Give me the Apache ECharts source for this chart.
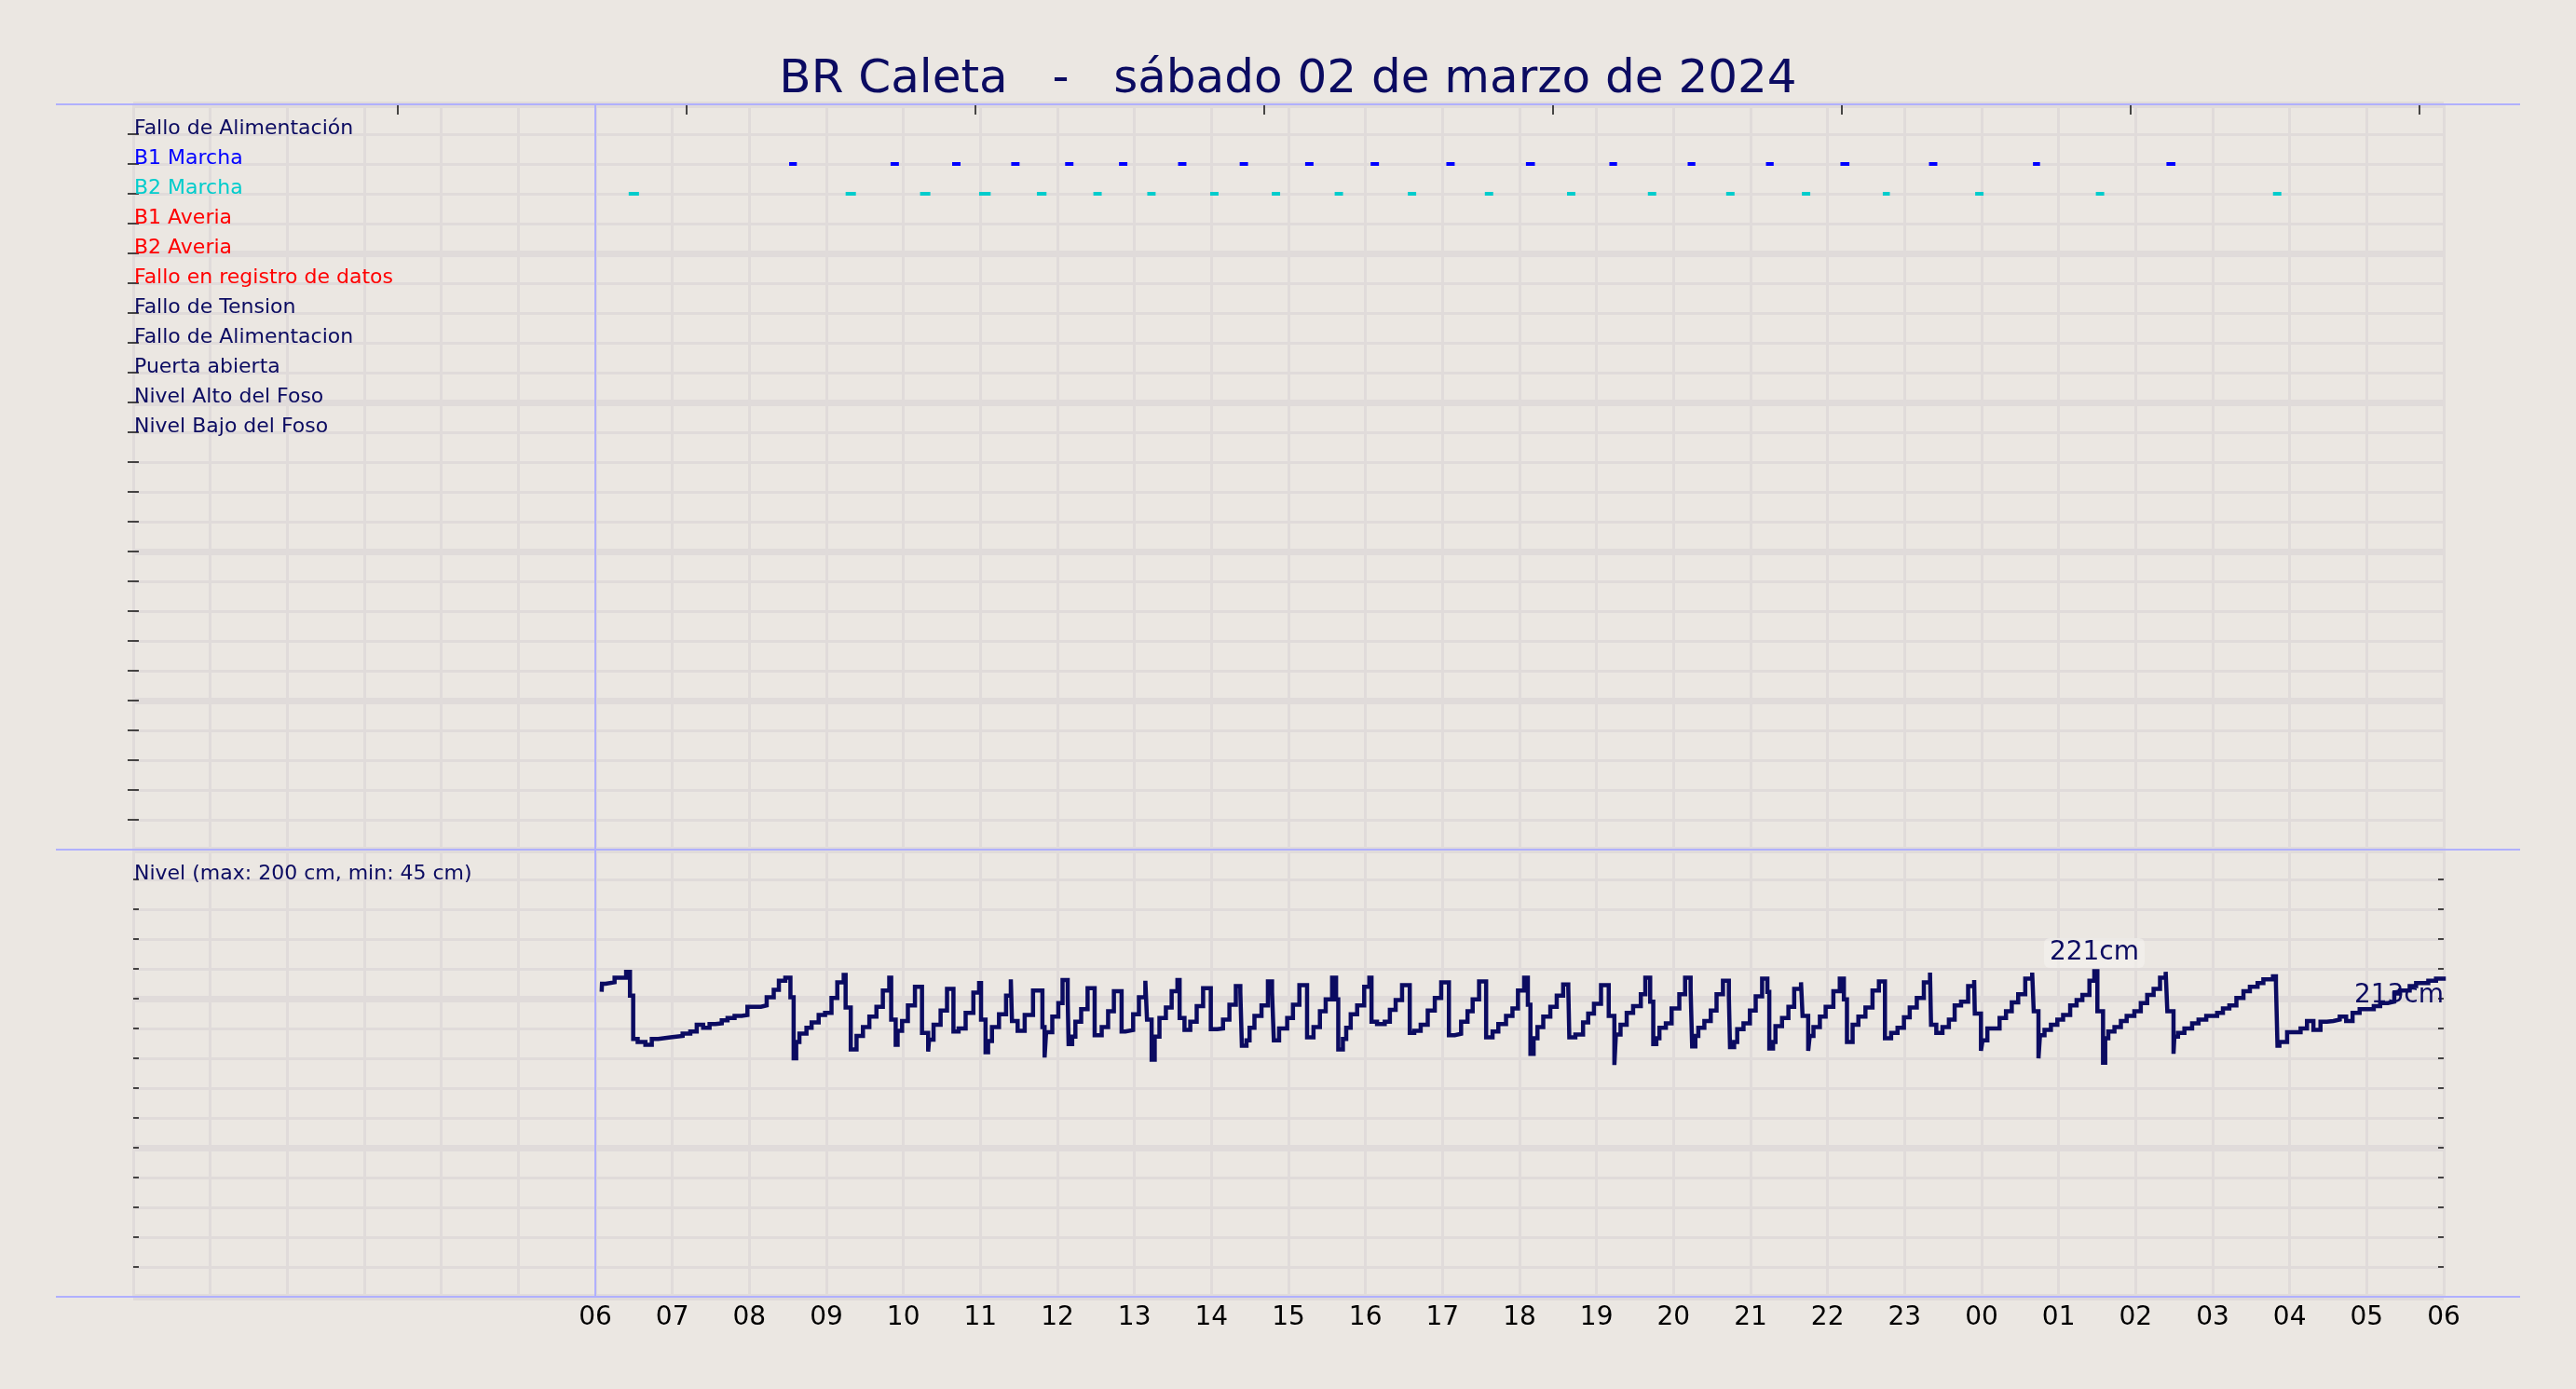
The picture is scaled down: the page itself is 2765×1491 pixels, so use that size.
<!DOCTYPE html>
<html>
<head>
<meta charset="utf-8">
<script src="https://cdn.jsdelivr.net/npm/echarts@6/dist/echarts.min.js"></script>
<style>
  html, body { margin: 0; padding: 0; background: #ebe7e2; }
  #chart { width: 2765px; height: 1491px; }
</style>
</head>
<body>
<div id="chart"></div>
<script>
// --- data ---
const titleText = 'BR Caleta   -   sábado 02 de marzo de 2024'
const nivelText = 'Nivel (max: 200 cm, min: 45 cm)'
const maxLabel = '221cm'
const lastLabel = '213cm'

// status rows, top to bottom (row 1 .. 11)
const rowLabels = [
  'Fallo de Alimentación', 'B1 Marcha', 'B2 Marcha', 'B1 Averia', 'B2 Averia',
  'Fallo en registro de datos', 'Fallo de Tension', 'Fallo de Alimentacion',
  'Puerta abierta', 'Nivel Alto del Foso', 'Nivel Bajo del Foso'
]
const rowColors = [
  '#0b0b61', '#0000ff', '#00cccc', '#ff0000', '#ff0000',
  '#ff0000', '#0b0b61', '#0b0b61', '#0b0b61', '#0b0b61', '#0b0b61'
]

// hour labels for x = 6 .. 30 (hours since 00:00)
const hourLabels = ['06', '07', '08', '09', '10', '11', '12', '13', '14', '15', '16', '17',
  '18', '19', '20', '21', '22', '23', '00', '01', '02', '03', '04', '05', '06']
// unlabeled tick marks along the top edge (hours)
const topTicks = [3.43, 7.18, 10.93, 14.68, 18.43, 22.18, 25.93, 29.68]

// pump runs: start (minutes since 00:00) and duration (minutes)
const b1Start = [511, 590, 638, 684, 726, 768, 814, 862, 913, 964, 1023, 1085, 1150, 1211, 1272, 1330, 1399, 1480, 1584]
const b1Dur = [6, 6.5, 6.5, 6.5, 6.5, 6.5, 6.5, 6.5, 6.5, 6.5, 6.5, 7, 6, 6, 6, 7, 6.5, 5.5, 7]
const b2Start = [386, 555, 613, 659, 704, 748, 790, 839, 887, 936, 993, 1053, 1117, 1180, 1241, 1300, 1363, 1435, 1529, 1667]
const b2Dur = [8, 8, 8, 9, 7.5, 6.5, 6.5, 6.5, 6.5, 6.5, 6.5, 6.5, 6.5, 6.5, 6.5, 6.5, 5.5, 6.5, 6.5, 6.5]

// pit level: time each value starts (minutes since 00:00) and level (cm)
const nivelMin = [
  365, 365.2, 368, 375, 384, 387, 389.5, 393, 399, 404, 409, 418.5, 428, 434, 439, 444, 449, 453.5, 458.5, 463,
  468.5, 474, 478.5, 489, 493.5, 499, 503, 508, 512, 514.5, 516.5, 519, 524.5, 528.5, 534, 539, 544, 548.5, 553.5, 555,
  559, 563.5, 568.5, 573.5, 579, 584, 589, 590.5, 594, 595.5, 599, 603.5, 609, 614.5, 619.3, 620, 623.5, 629, 634, 639,
  643, 648.5, 654.5, 659, 660.5, 664, 666, 669, 674.5, 680, 683.7, 684.6, 689, 694.5, 701, 708.3, 710, 711.2, 716, 720.7,
  724, 728, 728.7, 731.5, 734, 738.5, 743.5, 749, 754.5, 759.5, 764, 770, 773, 779, 783.5, 788.5, 789.8, 793.4, 795.8, 799.5,
  804.5, 809, 813.5, 815.2, 819, 823.5, 828.5, 833.5, 839.5, 844.5, 849, 854, 859, 862.5, 863.7, 867.3, 869.7, 873.5, 879, 884,
  887.2, 888.6, 892.7, 899, 903.5, 908.5, 914.5, 919.5, 924.5, 929, 934, 937.1, 938.8, 942.4, 945, 948.5, 953.5, 959, 963, 964.7,
  969, 975, 979, 983.5, 988.5, 994.5, 998, 1003, 1008.5, 1014, 1019, 1025, 1029.5, 1034.5, 1039.5, 1043.5, 1048.5, 1054, 1059, 1063.5,
  1069.5, 1074.5, 1078.8, 1083.6, 1086.5, 1088.5, 1091, 1094, 1098.5, 1104, 1109, 1114, 1118, 1118.8, 1123.5, 1129.5, 1133.5, 1138, 1143.5, 1149.5,
  1153.9, 1155.1, 1158.7, 1163.5, 1168.5, 1174.5, 1178, 1181.8, 1184.2, 1186.6, 1189, 1194, 1198.5, 1204.5, 1209, 1213.3, 1214.5, 1217, 1219.3, 1224,
  1229, 1233.5, 1238.5, 1243.1, 1244, 1247.2, 1249.6, 1254.5, 1259.5, 1264, 1269, 1273.1, 1274.6, 1277.5, 1279.4, 1284.5, 1289.5, 1294, 1299.3, 1300.5,
  1304.9, 1306.1, 1309, 1314, 1318.5, 1324.5, 1329.5, 1332.7, 1335.1, 1339.5, 1344, 1349.5, 1355, 1360, 1364.7, 1369.5, 1374.5, 1379.5, 1384, 1389.5,
  1395, 1399.8, 1400.6, 1404.7, 1409.5, 1414.5, 1419, 1424, 1429.5, 1434.2, 1434.7, 1439.5, 1440.7, 1444.5, 1454, 1459, 1463.5, 1468.5, 1474, 1479.4,
  1480.6, 1484.3, 1485.5, 1489, 1494, 1499, 1503.5, 1509, 1514, 1518.5, 1524, 1527.8, 1530.2, 1534.6, 1536.3, 1538.7, 1543.5, 1548.5, 1553, 1559,
  1564, 1569, 1574, 1579, 1583.4, 1584.7, 1589.5, 1590.2, 1593, 1598, 1604, 1609, 1615, 1623.5, 1628, 1633, 1638.5, 1644, 1649, 1655,
  1659.5, 1667, 1669.3, 1670.5, 1672, 1678, 1688.5, 1693.5, 1698.5, 1704, 1709, 1714, 1719, 1724, 1729, 1734.5, 1745.5, 1750.5, 1756.5, 1761.5,
  1766, 1773.5, 1778.5, 1788, 1794, 1800
]
const nivelCm = [
  206, 210, 211, 214, 218, 202, 173, 171, 169, 173, 174, 175, 176.5, 178, 182.5, 180.5, 183, 183.5, 185.5, 187,
  188.5, 189, 194.5, 195.5, 201, 206, 212, 214, 201, 160, 171, 176.5, 180.5, 184, 189, 190.5, 200.5, 211, 216, 194,
  166, 175, 181, 188, 194.5, 205.5, 214, 186, 169, 178.5, 185, 195.5, 208, 177, 164.5, 172.5, 182.5, 192, 206.5, 178,
  180, 190.5, 204, 210.5, 186, 164, 171.5, 181, 189.5, 202, 213, 185, 178.5, 189, 205.5, 181, 160.5, 177.5, 188, 197,
  212.5, 200.5, 169.5, 174.5, 184.5, 193, 207, 175.5, 181, 191.5, 205, 178, 179, 189.5, 201, 212, 186, 159, 174.5, 187,
  194, 205, 212.5, 187, 179, 184.5, 195, 207, 179.5, 180, 186, 196, 208.5, 204.5, 168.5, 172, 180.5, 188.5, 195.5, 211.5,
  204.5, 172, 180, 187, 196, 209, 174, 181, 191.5, 199.5, 214, 199.5, 166, 173, 180.5, 189.5, 195.5, 208, 214, 184.5,
  183, 184.5, 192.5, 199, 209, 177, 178.5, 182.5, 192, 200.5, 211, 175.5, 176.5, 184.5, 191.5, 199.5, 211.5, 174, 178, 183,
  188.5, 193.5, 205.5, 214, 196, 163, 173.5, 181, 188, 194.5, 202, 209.5, 207, 174, 176, 184, 190, 196.5, 209, 188.5,
  155.5, 176, 182.5, 190.5, 195, 203, 214, 198, 169.5, 173.5, 180.5, 183.5, 193.5, 203, 214, 206, 168, 175, 180.5, 185,
  192, 203, 212, 201.5, 167.5, 171, 179.5, 183.5, 192, 201.5, 213.5, 204.5, 166.5, 171, 181.5, 187, 194.5, 206.5, 211, 188.5,
  165, 175, 181, 188, 194.5, 205, 213.5, 199.5, 171, 182.5, 188, 194, 205.5, 211.5, 173.5, 177, 180.5, 187.5, 194, 200.5,
  211, 217.5, 182.5, 177, 181, 186, 195.5, 198, 208.5, 212.5, 190, 165, 172, 180, 187, 191.5, 197.5, 203, 213.5, 217.5,
  191.5, 160, 175.5, 179, 182.5, 186, 189, 195.5, 199, 202.5, 212, 218.5, 191.5, 157, 173.5, 178, 181, 185, 188.5, 191.5,
  197, 202.5, 206.5, 214, 218, 191.5, 163, 174.5, 177, 180, 183.5, 186, 188.5, 190.5, 193.5, 195.5, 200.5, 205, 208, 210.5,
  213, 215, 209.5, 168.5, 171, 177.5, 180, 185, 179, 184.5, 185, 186, 188, 185, 190.5, 193, 195, 197, 198, 203.5,
  205.5, 208.5, 210.5, 212, 213.5, 213.5
]

// --- styling ---
const font = '"DejaVu Sans", sans-serif'
const navy = '#0b0b61'
const gridColor = '#e0dbda'
const lavender = '#b0b0ff'
const tickStyle = { color: '#111', width: 1.5 }

const chart = echarts.init(document.getElementById('chart'))

const levelData = nivelMin.map((m, i) => [m / 60, nivelCm[i]])
const lastPoint = levelData[levelData.length - 1]

const b1Data = b1Start.map((s, i) => [s / 60, (s + b1Dur[i]) / 60, 2])
const b2Data = b2Start.map((s, i) => [s / 60, (s + b2Dur[i]) / 60, 3])

// short horizontal bar for each pump run, drawn through the axes
const runRenderer = color => (params, api) => {
  const a = api.coord([api.value(0), api.value(2)])
  const b = api.coord([api.value(1), api.value(2)])
  return {
    type: 'rect',
    shape: { x: a[0], y: a[1] - 2, width: Math.max(b[0] - a[0], 1), height: 4 },
    style: { fill: color }
  }
}

const startLine = {
  silent: true,
  symbol: ['none', 'none'],
  label: { show: false },
  lineStyle: { color: lavender, width: 2, type: 'solid' },
  data: [{ xAxis: 6 }]
}

// grid lines only: thick every 5 rows, thin on every row
const lineAxis = (gridIndex, max, interval, inverse) => ({
  type: 'value',
  gridIndex,
  position: 'left',
  min: 0,
  max,
  interval,
  inverse,
  axisLine: { show: false },
  axisLabel: { show: false },
  axisTick: { show: false },
  minorTick: { show: false, splitNumber: 5 },
  splitLine: { show: true, lineStyle: { color: gridColor, width: 7 } },
  minorSplitLine: { show: true, lineStyle: { color: gridColor, width: 3 } }
})

// small inward tick on every row
const tickAxis = (gridIndex, position, max, interval, inverse) => ({
  type: 'value',
  gridIndex,
  position,
  min: 0,
  max,
  interval,
  inverse,
  axisLine: { show: false },
  axisLabel: { show: false },
  splitLine: { show: false },
  axisTick: { show: true, inside: true, length: 6, lineStyle: tickStyle }
})

const hourAxis = (gridIndex, withLabels) => ({
  type: 'value',
  gridIndex,
  position: 'bottom',
  min: 0,
  max: 30,
  interval: 1,
  axisLine: { show: false },
  axisTick: { show: false },
  splitLine: { show: true, lineStyle: { color: gridColor, width: 3 } },
  axisLabel: withLabels ? {
    show: true,
    margin: 9,
    fontFamily: font,
    fontSize: 28,
    color: '#000',
    formatter: v => {
      const h = Math.round(v)
      return h >= 6 ? hourLabels[h - 6] : ''
    }
  } : { show: false }
})

const option = {
  backgroundColor: '#ebe7e2',
  animation: false,
  textStyle: { fontFamily: font },
  title: [
    {
      text: titleText,
      left: 'center',
      top: 61,
      padding: 0,
      textStyle: { fontFamily: font, fontSize: 50, fontWeight: 'normal', color: navy }
    },
    {
      text: nivelText,
      left: 144,
      top: 927,
      padding: 0,
      textStyle: { fontFamily: font, fontSize: 22, fontWeight: 'normal', color: navy }
    }
  ],
  grid: [
    { left: 143, right: 142, top: 112, height: 800, containLabel: false, outerBoundsMode: 'none' },
    { left: 143, right: 142, top: 912, height: 480, containLabel: false, outerBoundsMode: 'none' }
  ],
  xAxis: [
    hourAxis(0, false),
    {
      type: 'value',
      gridIndex: 0,
      position: 'top',
      min: 0,
      max: 30,
      axisLine: { show: false },
      axisLabel: { show: false },
      splitLine: { show: false },
      axisTick: { show: true, inside: true, length: 11, customValues: topTicks, lineStyle: tickStyle }
    },
    hourAxis(1, true)
  ],
  yAxis: [
    lineAxis(0, 25, 5, true),
    tickAxis(0, 'right', 25, 1, true),
    {
      // row names sitting on their row line
      type: 'value',
      gridIndex: 0,
      position: 'left',
      min: 0,
      max: 25,
      interval: 1,
      inverse: true,
      axisLine: { show: false },
      axisTick: { show: false },
      splitLine: { show: false },
      axisLabel: {
        show: true,
        inside: true,
        margin: 1,
        align: 'left',
        verticalAlign: 'bottom',
        lineHeight: 11,
        fontFamily: font,
        fontSize: 22,
        formatter: v => rowLabels[Math.round(v) - 1] || '',
        color: v => rowColors[Math.round(v) - 1] || navy
      }
    },
    lineAxis(1, 300, 100, false),
    tickAxis(1, 'left', 300, 20, false),
    tickAxis(1, 'right', 300, 20, false),
    tickAxis(0, 'left', 25, 1, true)
  ],
  graphic: [112, 912, 1392].map(y => ({
    type: 'line',
    z: 50,
    silent: true,
    shape: { x1: 60, y1: y, x2: 2705, y2: y },
    style: { stroke: lavender, lineWidth: 2 }
  })),
  series: [
    {
      name: 'B1 Marcha',
      type: 'custom',
      xAxisIndex: 0,
      yAxisIndex: 0,
      data: b1Data,
      encode: { x: [0, 1], y: 2 },
      renderItem: runRenderer('#0000ff'),
      markLine: startLine,
      z: 5
    },
    {
      name: 'B2 Marcha',
      type: 'custom',
      xAxisIndex: 0,
      yAxisIndex: 0,
      data: b2Data,
      encode: { x: [0, 1], y: 2 },
      renderItem: runRenderer('#00cccc'),
      z: 5
    },
    {
      name: 'Nivel',
      type: 'line',
      xAxisIndex: 2,
      yAxisIndex: 3,
      data: levelData,
      step: 'end',
      showSymbol: false,
      symbol: 'none',
      lineStyle: { color: navy, width: 4.5, join: 'miter', cap: 'square' },
      markLine: startLine,
      markPoint: {
        symbol: 'circle',
        symbolSize: 1,
        itemStyle: { color: 'rgba(0,0,0,0)' },
        label: { show: true, fontFamily: font, fontSize: 28, color: navy },
        data: [
          {
            type: 'max',
            label: {
              formatter: maxLabel,
              position: 'top',
              distance: 3,
              padding: [2, 6],
              borderRadius: 6,
              backgroundColor: 'rgba(246,244,241,0.55)'
            }
          },
          {
            coord: lastPoint,
            label: { formatter: lastLabel, position: 'bottom', align: 'right', distance: 4 }
          }
        ]
      },
      z: 6
    }
  ]
}

chart.setOption(option)
</script>
</body>
</html>
